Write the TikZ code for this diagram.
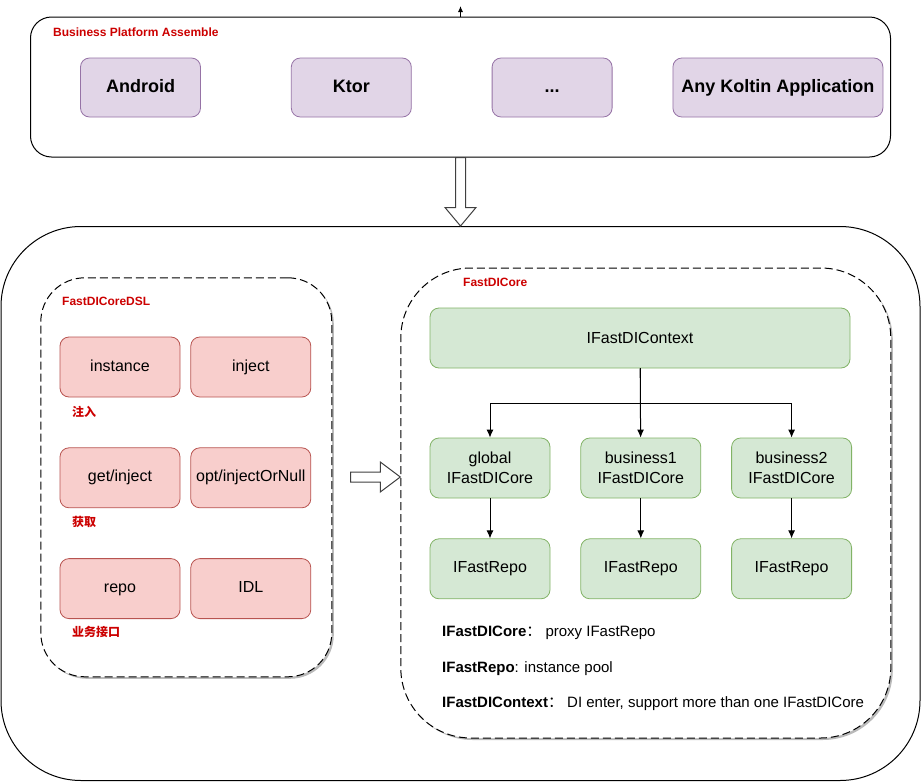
\documentclass[tikz,border=0pt]{standalone}
\usepackage{fontspec}
\setmainfont{Liberation Sans}
\newfontfamily\cjk{Noto Sans CJK SC}
\usetikzlibrary{positioning,shadows,arrows.meta}
\definecolor{appfill}{HTML}{E1D5E7}
\definecolor{appdraw}{HTML}{9673A6}
\definecolor{dslfill}{HTML}{F8CECC}
\definecolor{dsldraw}{HTML}{B85450}
\definecolor{corefill}{HTML}{D5E8D4}
\definecolor{coredraw}{HTML}{82B366}
\definecolor{titlered}{HTML}{CC0000}

\begin{document}
\begin{tikzpicture}[x=1pt, y=-1pt]
		\tikzstyle{frame}=[rectangle, draw=black, line width=1pt, fill=white]
		\tikzstyle{group}=[rectangle, draw=black, line width=1pt, dash pattern=on 8pt off 4pt, fill=white, drop shadow={shadow xshift=2pt, shadow yshift=-2pt, fill=black!45, opacity=0.6}]
		\tikzstyle{app}=[rectangle, rounded corners=9pt, minimum width=120pt, minimum height=59pt, text height=13pt, text depth=4pt, draw=appdraw, fill=appfill, line width=0.8pt, font=\fontsize{18}{22}\selectfont\bfseries]
		\tikzstyle{dsl}=[rectangle, rounded corners=9pt, minimum width=120pt, minimum height=60pt, inner sep=2pt, text height=11.5pt, text depth=3.5pt, draw=dsldraw, fill=dslfill, line width=0.8pt, font=\fontsize{16}{20}\selectfont]
		\tikzstyle{core}=[rectangle, rounded corners=9pt, minimum width=120pt, minimum height=60pt, inner sep=2pt, align=center, draw=coredraw, fill=corefill, line width=0.8pt, font=\fontsize{16}{20}\selectfont]
		\tikzstyle{title}=[inner sep=0pt, anchor=west, text=titlered, font=\fontsize{12}{14}\selectfont\bfseries]
		\tikzstyle{note}=[inner sep=0pt, anchor=west, font=\fontsize{15}{18}\selectfont]
		\tikzstyle{connect}=[-{Latex[length=8pt, width=7pt]}, line width=1pt]
		\tikzstyle{hollow}=[draw=black!75, fill=white, line width=1pt]
		\useasboundingbox (0,0) rectangle (922,782);
		\node[frame, rounded corners=21pt, minimum width=860pt, minimum height=140pt] (platform) at (460.5,87) {};
		\node[frame, rounded corners=80pt, minimum width=919pt, minimum height=554pt] (runtime) at (460.5,503.5) {};
		\node[group, rounded corners=44pt, minimum width=291pt, minimum height=399pt] (dslgroup) at (186.3,477.3) {};
		\node[group, rounded corners=70pt, minimum width=490pt, minimum height=470pt] (coregroup) at (645.8,503) {};
		\node[title] (platformtitle) at (53,32) {Business Platform Assemble};
		\node[app] (android) at (140.5,87.5) {Android};
		\node[app] (ktor) [right=90pt of android] {Ktor};
		\node[app] (more) [right=80pt of ktor] {...};
		\node[app, minimum width=210pt] (anyapp) [right=60pt of more] {Any Koltin Application};
		\node[title] (dsltitle) at (62,301.5) {FastDICoreDSL};
		\node[dsl] (instance) at (120,367) {instance};
		\node[dsl] (inject) [right=10pt of instance] {inject};
		\node[dsl] (get) [below=50pt of instance] {get/inject};
		\node[dsl] (opt) [right=10pt of get] {opt/injectOrNull};
		\node[dsl] (repo) [below=50pt of get] {repo};
		\node[dsl] (idl) [right=10pt of repo] {IDL};
		\node[title] (injectlabel) at (72,411.5) {\cjk 注入};
		\node[title] (getlabel) at (72,521.5) {\cjk 获取};
		\node[title] (repolabel) at (72,631.5) {\cjk 业务接口};
		\node[title] (coretitle) at (463,282.5) {FastDICore};
		\node[core, minimum width=420pt] (context) at (640,338) {IFastDIContext};
		\node[core] (global) at (490,468) {global\\IFastDICore};
		\node[core] (business1) [right=30pt of global] {business1\\IFastDICore};
		\node[core] (business2) [right=30pt of business1] {business2\\IFastDICore};
		\node[core] (globalrepo) [below=40pt of global] {IFastRepo};
		\node[core] (business1repo) [below=40pt of business1] {IFastRepo};
		\node[core] (business2repo) [below=40pt of business2] {IFastRepo};
		\node[note] (corenote) at (442,633) {\textbf{IFastDICore}{\cjk ：} proxy IFastRepo};
		\node[note] (reponote) at (442,668.5) {\textbf{IFastRepo}: instance pool};
		\node[note] (contextnote) at (442,704) {\textbf{IFastDIContext}{\cjk ：} DI enter, support more than one IFastDICore};
		\coordinate (up) at (460.5,6);
		\coordinate (dslout) at (350.5,477);
		\coordinate (corein) at (coregroup.west |- dslout);
		\path (platform.north) edge [-{Latex[length=6pt, width=5pt]}, line width=1pt] (up)
		(context) edge [connect] (business1)
		(global) edge [connect] (globalrepo)
		(business1) edge [connect] (business1repo)
		(business2) edge [connect] (business2repo);
		\draw[connect] (context.south) -- ([yshift=-35pt]context.south) -| (global.north);
		\draw[connect] (context.south) -- ([yshift=-35pt]context.south) -| (business2.north);
		\draw[hollow] ([xshift=-5pt]platform.south) -- ([xshift=-5pt,yshift=18.5pt]runtime.north) -- ([xshift=-15.5pt,yshift=18.5pt]runtime.north) -- (runtime.north) -- ([xshift=15.5pt,yshift=18.5pt]runtime.north) -- ([xshift=5pt,yshift=18.5pt]runtime.north) -- ([xshift=5pt]platform.south) -- cycle;
		\draw[hollow] ([yshift=5pt]dslout) -- ([xshift=-20pt,yshift=5pt]corein) -- ([xshift=-20pt,yshift=15pt]corein) -- (corein) -- ([xshift=-20pt,yshift=-15pt]corein) -- ([xshift=-20pt,yshift=-5pt]corein) -- ([yshift=-5pt]dslout) -- cycle;
\end{tikzpicture}
\end{document}
